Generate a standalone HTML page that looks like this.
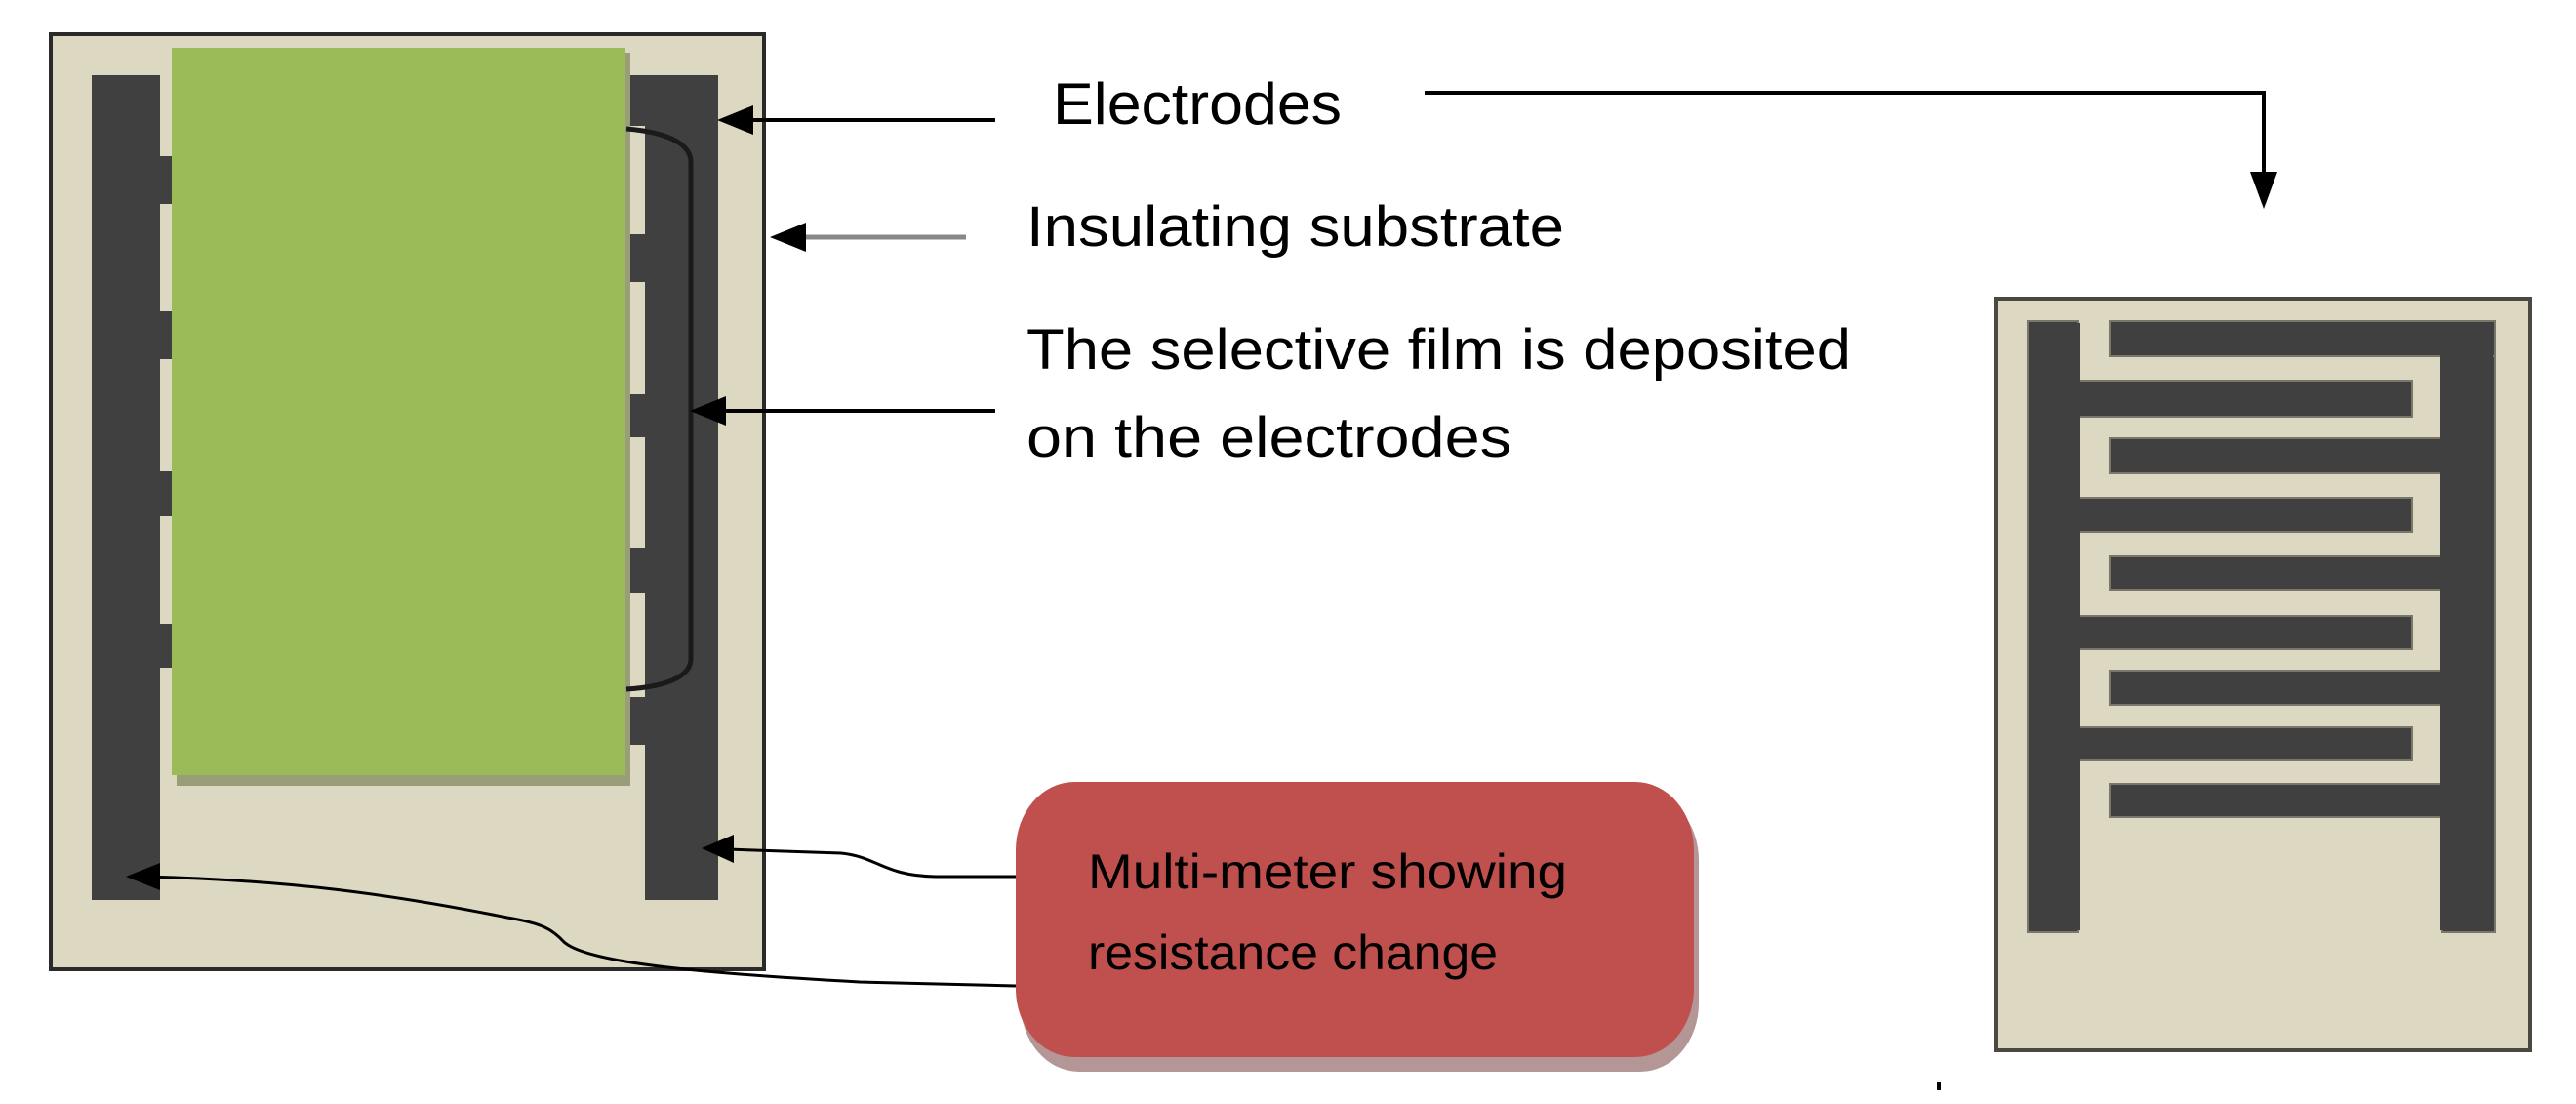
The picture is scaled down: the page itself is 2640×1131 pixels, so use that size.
<!DOCTYPE html>
<html><head><meta charset="utf-8"><style>
html,body{margin:0;padding:0;background:#fff;}
svg{display:block;}
text{font-family:"Liberation Sans",sans-serif;fill:#000;}
</style></head><body>
<svg width="2640" height="1131" viewBox="0 0 2640 1131" xmlns="http://www.w3.org/2000/svg">
<!-- LEFT FIGURE -->
<rect x="52" y="35" width="731" height="958" fill="#ddd8c2" stroke="#2a2a2a" stroke-width="4"/>
<!-- left electrode -->
<rect x="94" y="77" width="70" height="845" fill="#404040"/>
<g fill="#404040">
<rect x="164" y="160" width="14" height="49"/>
<rect x="164" y="319" width="14" height="49"/>
<rect x="164" y="483" width="14" height="46"/>
<rect x="164" y="639" width="14" height="45"/>
</g>
<!-- right electrode -->
<rect x="661" y="77" width="75" height="845" fill="#404040"/>
<g fill="#404040">
<rect x="640" y="77" width="22" height="52"/>
<rect x="640" y="240" width="22" height="49"/>
<rect x="640" y="404" width="22" height="44"/>
<rect x="640" y="561" width="22" height="46"/>
<rect x="640" y="714" width="22" height="49"/>
</g>
<!-- green film -->
<rect x="181" y="54" width="465" height="751" fill="#9a9e78"/>
<rect x="176" y="49" width="465" height="745" fill="#9bbb59"/>
<!-- bracket -->
<path d="M642,132 C690,136 708,150 708,166 L708,675 C708,690 690,703 642,706" fill="none" stroke="#1a1a1a" stroke-width="5"/>

<!-- arrows left -->
<line x1="1020" y1="123" x2="760" y2="123" stroke="#000" stroke-width="4"/>
<polygon points="735,123 772,108 772,138" fill="#000"/>
<line x1="990" y1="243" x2="812" y2="243" stroke="#888" stroke-width="5"/>
<polygon points="789,243 826,228 826,258" fill="#000"/>
<line x1="1020" y1="421" x2="735" y2="421" stroke="#000" stroke-width="4"/>
<polygon points="707,421 744,406 744,436" fill="#000"/>

<!-- multimeter connectors -->
<path d="M1041,898 L959,898 C905,897 900,878 862,874 L745,870" fill="none" stroke="#000" stroke-width="3"/>
<polygon points="719,869 752,855 752,884" fill="#000"/>
<path d="M1041,1010 L881,1006 C700,996 600,985 578,965 C566,952 556,946 520,940 C400,916 300,902 150,898" fill="none" stroke="#000" stroke-width="3"/>
<polygon points="129,898 164,884 164,912" fill="#000"/>

<!-- multimeter box -->
<rect x="1046" y="811" width="695" height="287" rx="60" ry="70" fill="#b49696"/>
<rect x="1041" y="801" width="695" height="282" rx="60" ry="70" fill="#c0504d"/>
<text x="1115" y="910" font-size="50" textLength="491" lengthAdjust="spacingAndGlyphs">Multi-meter  showing</text>
<text x="1115" y="993" font-size="50" textLength="420" lengthAdjust="spacingAndGlyphs">resistance change</text>

<!-- labels -->
<text x="1079" y="127" font-size="60" textLength="296" lengthAdjust="spacingAndGlyphs">Electrodes</text>
<text x="1052" y="252" font-size="58" textLength="551" lengthAdjust="spacingAndGlyphs">Insulating substrate</text>
<text x="1052" y="378" font-size="58" textLength="845" lengthAdjust="spacingAndGlyphs">The selective film is deposited</text>
<text x="1052" y="468" font-size="58" textLength="497" lengthAdjust="spacingAndGlyphs">on the  electrodes</text>

<!-- electrodes to right figure -->
<polyline points="1460,95 2320,95 2320,180" fill="none" stroke="#000" stroke-width="4"/>
<polygon points="2320,214 2306,176 2334,176" fill="#000"/>

<!-- RIGHT FIGURE -->
<rect x="2046" y="306" width="547" height="770" fill="#ddd8c2" stroke="#4a4840" stroke-width="4"/>
<g fill="#404040" stroke="#7a766a" stroke-width="2">
<rect x="2078" y="329" width="52" height="626"/>
<rect x="2503" y="329" width="54" height="626"/>
<rect x="2162" y="329" width="395" height="36"/>
<rect x="2130" y="390" width="342" height="37"/>
<rect x="2130" y="510" width="342" height="35"/>
<rect x="2130" y="631" width="342" height="34"/>
<rect x="2130" y="745" width="342" height="34"/>
<rect x="2162" y="449" width="341" height="36"/>
<rect x="2162" y="570" width="341" height="34"/>
<rect x="2162" y="687" width="341" height="35"/>
<rect x="2162" y="803" width="341" height="34"/>
</g>
<g fill="#404040">
<rect x="2080" y="331" width="52" height="622"/>
<rect x="2501" y="331" width="54" height="622"/>
<rect x="2164" y="331" width="391" height="33"/>
</g>
<!-- small mark -->
<rect x="1985" y="1108" width="4" height="9" fill="#000"/>
</svg>
</body></html>
